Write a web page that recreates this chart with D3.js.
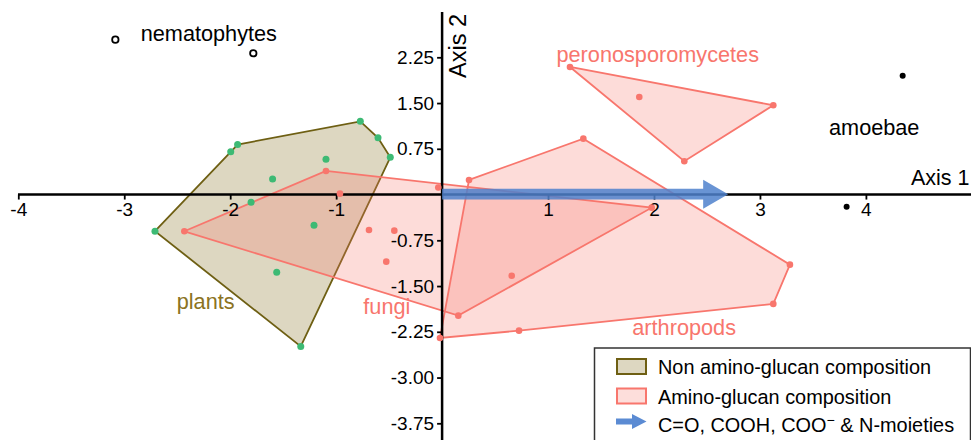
<!DOCTYPE html>
<html lang="en">
<head>
<meta charset="utf-8">
<title>Ordination - Axis 1 / Axis 2</title>
<script src="https://d3js.org/d3.v7.min.js"></script>
<style>
  body { margin: 0; background: #fff; }
  svg text { font-family: "Liberation Sans", Arial, sans-serif; }
</style>
</head>
<body>
<script>
// width and height
var w = 971, h = 440;

// group points (Axis 1, Axis 2)
var plants = [[-2.71,-0.60],[-1.995,0.70],[-1.93,0.82],[-0.772,1.20],[-0.605,0.93],[-0.489,0.61],
              [-1.334,-2.49],[-1.096,0.58],[-1.60,0.256],[-1.803,-0.126],[-1.209,-0.503],[-1.561,-1.274]];
var plantsHull = [[-2.71,-0.60],[-1.995,0.70],[-1.93,0.82],[-0.772,1.20],[-0.605,0.93],[-0.489,0.61],[-1.334,-2.49]];

var fungi = [[-2.433,-0.602],[-1.096,0.387],[1.978,-0.215],[0.153,-1.985],
             [-0.964,0.015],[-0.69,-0.58],[-0.451,-0.592],[-0.527,-1.10],[-0.036,0.116]];
var fungiHull = [[-2.433,-0.602],[-1.096,0.387],[1.978,-0.215],[0.153,-1.985]];

var arthropods = [[0.254,0.239],[1.333,0.916],[3.283,-1.149],[3.126,-1.793],[0.726,-2.231],[-0.02,-2.351],[0.657,-1.33]];
var arthropodsHull = [[0.254,0.239],[1.333,0.916],[3.283,-1.149],[3.126,-1.793],[0.726,-2.231],[-0.02,-2.351]];

var perono = [[1.207,2.092],[3.126,1.464],[2.286,0.546],[1.861,1.60]];
var peronoHull = [[1.207,2.092],[3.126,1.464],[2.286,0.546]];

var nematophytes = [[-3.084,2.539],[-1.782,2.316]];
var amoebae = [[4.347,1.949],[3.818,-0.198]];

// vector arrow end on Axis 1
var arrowEnd = 2.7;

var xTicks = [-4,-3,-2,-1,1,2,3,4];
var yTicks = [2.25,1.50,0.75,-0.75,-1.50,-2.25,-3.00,-3.75];

var legendLabels = ["Non amino-glucan composition", "Amino-glucan composition"];

var green = "#3dba74", salmon = "#f8766d", olive = "#6e5f13";

var svg = d3.select("body").append("svg")
  .attr("width", w).attr("height", h);

var xScale = d3.scaleLinear().domain([-4, 4]).range([18.3, 865.9]);
var yScale = d3.scaleLinear().domain([2.25, -3.75]).range([57.3, 423.3]);

var line = d3.line().x(function(d){ return xScale(d[0]); }).y(function(d){ return yScale(d[1]); });
var hullPath = function(pts){ return line(pts) + "Z"; };

// hulls
svg.append("path").attr("d", hullPath(plantsHull))
  .attr("fill", "#ddd7c1").attr("stroke", olive).attr("stroke-width", 1.8);

[fungiHull, arthropodsHull, peronoHull].forEach(function(hull){
  svg.append("path").attr("d", hullPath(hull))
    .attr("fill", salmon).attr("fill-opacity", 0.26)
    .attr("stroke", salmon).attr("stroke-width", 1.8);
});

// plain hyphen for negatives, like the original
var hy = function(f){ return function(d){ return f(d).replace("\u2212", "-"); }; };

// axes through the origin
var xAxis = d3.axisBottom(xScale).tickValues(xTicks).tickSize(5).tickPadding(3)
  .tickFormat(hy(d3.format("d")));
var gx = svg.append("g").attr("transform", "translate(0," + yScale(0) + ")").call(xAxis);
gx.select(".domain").remove();
gx.append("line").attr("x1", 18).attr("x2", w).attr("stroke", "#000").attr("stroke-width", 2.5);
gx.selectAll(".tick line").attr("stroke-width", 1.8);
gx.selectAll(".tick text").attr("font-size", 19).attr("fill", "#000")
  .attr("font-family", "Liberation Sans, Arial, sans-serif");

var yAxis = d3.axisLeft(yScale).tickValues(yTicks).tickSize(5).tickPadding(3)
  .tickFormat(hy(d3.format(".2f")));
var gy = svg.append("g").attr("transform", "translate(" + xScale(0) + ",0)").call(yAxis);
gy.select(".domain").remove();
gy.append("line").attr("y1", 12).attr("y2", h).attr("stroke", "#000").attr("stroke-width", 2.5);
gy.selectAll(".tick line").attr("stroke-width", 1.8);
gy.selectAll(".tick text").attr("font-size", 19).attr("fill", "#000")
  .attr("font-family", "Liberation Sans, Arial, sans-serif");

svg.append("text").attr("x", 911).attr("y", 185).attr("font-size", 21.5).text("Axis 1");
svg.append("text").attr("transform", "translate(" + (xScale(0) + 24) + ",78) rotate(-90)")
  .attr("font-size", 23.5).text("Axis 2");

// blue vector arrow
var ay = yScale(0) - 0.4;
var headBase = xScale(arrowEnd) - 25;
svg.append("path")
  .attr("d", "M" + xScale(0) + "," + (ay - 5.4) + "H" + headBase + "V" + (ay - 14.5) +
             "L" + xScale(arrowEnd) + "," + ay + "L" + headBase + "," + (ay + 14.5) +
             "V" + (ay + 5.4) + "H" + xScale(0) + "Z")
  .attr("fill", "#4f81cc").attr("fill-opacity", 0.85);

// points
function dots(data, fill, r) {
  svg.append("g").selectAll("circle").data(data).enter().append("circle")
    .attr("cx", function(d){ return xScale(d[0]); })
    .attr("cy", function(d){ return yScale(d[1]); })
    .attr("r", r).attr("fill", fill);
}
dots(plants, green, 3.5);
dots(fungi, salmon, 3.3);
dots(arthropods, salmon, 3.3);
dots(perono, salmon, 3.3);
dots(amoebae, "#000", 3);
svg.append("g").selectAll("circle").data(nematophytes).enter().append("circle")
  .attr("cx", function(d){ return xScale(d[0]); })
  .attr("cy", function(d){ return yScale(d[1]); })
  .attr("r", 3.2).attr("fill", "#fff").attr("stroke", "#000").attr("stroke-width", 1.8);

// group labels
var labels = [
  ["nematophytes", 140.7, 40.5, "#000"],
  ["peronosporomycetes", 556.5, 62, salmon],
  ["amoebae", 829, 135, "#000"],
  ["plants", 176.7, 309, "#8b7322"],
  ["fungi", 363.3, 314, salmon],
  ["arthropods", 632.3, 335, salmon]
];
svg.selectAll(".grp").data(labels).enter().append("text")
  .attr("class", "grp")
  .attr("x", function(d){ return d[1]; }).attr("y", function(d){ return d[2]; })
  .attr("fill", function(d){ return d[3]; })
  .attr("font-size", 21.7)
  .text(function(d){ return d[0]; });

// legend
var lg = svg.append("g");
lg.append("rect").attr("x", 594.5).attr("y", 348).attr("width", 376).attr("height", 110)
  .attr("fill", "#fff").attr("stroke", "#333").attr("stroke-width", 1.5);
lg.append("rect").attr("x", 617).attr("y", 359).attr("width", 29).attr("height", 15)
  .attr("fill", "#ddd7c1").attr("stroke", olive).attr("stroke-width", 2);
lg.append("rect").attr("x", 617).attr("y", 388.5).attr("width", 29).attr("height", 15)
  .attr("fill", "#fddedb").attr("stroke", salmon).attr("stroke-width", 2);
lg.append("path")
  .attr("d", "M616,418.5H632V414L646.5,421.5L632,429V424.5H616Z")
  .attr("fill", "#5b8bd3");
lg.selectAll(".lt").data(legendLabels).enter().append("text")
  .attr("class", "lt")
  .attr("x", 658).attr("y", function(d, i){ return 374 + i * 29.5; })
  .attr("font-size", 19.9).text(function(d){ return d; });
var t3 = lg.append("text").attr("x", 658).attr("y", 432).attr("font-size", 19.9);
t3.append("tspan").text("C=O, COOH, COO");
t3.append("tspan").attr("dy", -7).attr("font-size", 14).text("\u2212");
t3.append("tspan").attr("dy", 7).text(" & N-moieties");
</script>
</body>
</html>
